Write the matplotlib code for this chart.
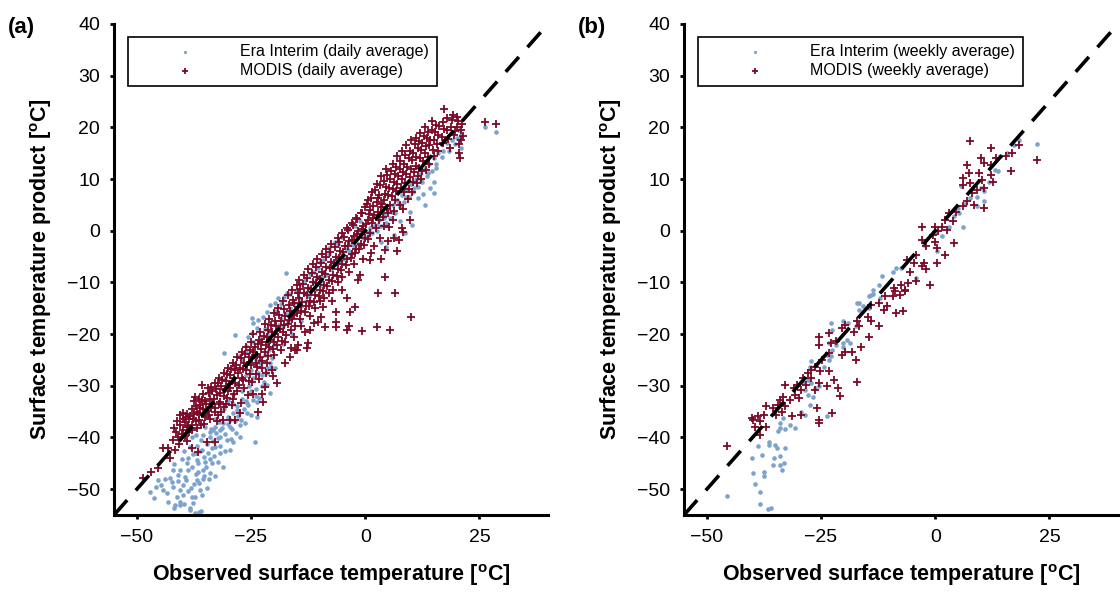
import matplotlib
matplotlib.use("Agg")
import matplotlib.pyplot as plt

plt.rcParams['font.family'] = ['Liberation Sans', 'DejaVu Sans']
plt.rcParams['mathtext.fontset'] = 'custom'
plt.rcParams['mathtext.rm'] = 'Liberation Sans'
plt.rcParams['mathtext.bf'] = 'Liberation Sans:bold'

# ---------------- data (observed, product) pairs ----------------
era_daily = [
    (-47.1, -50.5), (-41.6, -53.1), (-40.5, -53.1), (-38.4, -53.6), (-38.0, -51.5), (-39.9, -51.1),
    (-41.3, -51.5), (-43.5, -50.7), (-44.3, -50.2), (-42.7, -47.8), (-42.0, -46.3), (-40.5, -46.3),
    (-39.1, -45.0), (-39.5, -47.6), (-36.9, -48.2), (-36.2, -50.2), (-34.7, -49.8), (-37.3, -51.5),
    (-39.9, -49.2), (-45.4, -48.2), (-36.9, -44.4), (-35.5, -46.3), (-34.0, -46.9), (-35.8, -42.4),
    (-34.4, -43.0), (-38.4, -41.8), (-38.8, -44.0), (-33.6, -45.0), (-32.9, -41.8), (-31.8, -43.0),
    (-31.1, -45.7), (-29.6, -42.4), (-30.3, -40.5), (-28.9, -40.8), (-31.8, -39.9), (-34.0, -39.9),
    (-24.1, -40.8), (-27.4, -39.9), (-33.3, -38.6), (-31.8, -38.6), (-29.6, -37.9), (-27.4, -37.6),
    (-25.9, -35.3), (-23.8, -36.0), (-28.1, -34.7), (-23.8, -33.1), (-20.8, -31.4), (-25.9, -33.3),
    (-29.6, -36.6), (-31.1, -37.2), (-32.9, -37.9), (-32.2, -40.1), (-28.9, -35.3), (-38.4, -54.0),
    (-40.5, -52.4), (-42.0, -49.5), (-36.6, -46.6), (-38.0, -45.7), (-35.1, -44.7), (-36.5, -54.5),
    (-37.5, -49.0), (-35.5, -48.0), (-33.0, -47.5), (-41.0, -48.5), (-37.0, -43.0), (-33.5, -42.0),
    (-46.3, -51.8), (-44.8, -49.1), (-43.2, -52.4), (-42.4, -48.6), (-41.8, -45.2), (-41.1, -47.3),
    (-40.6, -50.1), (-40.1, -44.1), (-39.6, -52.8), (-39.2, -48.3), (-38.7, -46.2), (-38.2, -49.7),
    (-37.8, -43.2), (-37.6, -52.6), (-37.1, -47.1), (-36.7, -44.9), (-36.4, -48.8), (-36.1, -42.6),
    (-35.8, -51.2), (-35.4, -47.4), (-35.2, -43.8), (-34.9, -45.8), (-34.6, -41.3), (-34.2, -48.1),
    (-33.9, -44.2), (-33.4, -40.7), (-33.1, -43.6), (-32.6, -39.2), (-32.3, -44.8), (-31.9, -41.6),
    (-31.4, -38.1), (-30.8, -42.7), (-30.6, -39.4), (-30.1, -37.4), (-29.4, -40.2), (-29.1, -38.3),
    (-28.6, -36.8), (-28.3, -39.1), (-27.8, -35.9), (-27.1, -36.7), (-26.6, -34.5), (-26.3, -37.2),
    (-25.6, -33.8), (-25.1, -35.6), (-24.6, -32.7), (-23.9, -30.6), (-23.2, -32.4), (-22.7, -30.1),
    (-22.2, -29.3), (-21.6, -29.8), (-35.9, -54.3), (-37.2, -54.6), (-38.9, -50.4), (-41.9, -53.6),
    (-43.8, -48.1), (-45.9, -49.6), (-39.7, -42.7), (-36.8, -41.6), (-33.7, -38.3), (-35.6, -39.6),
    (-38.0, -40.0), (-37.0, -39.5), (-36.0, -40.5), (-35.0, -38.0), (-34.0, -39.0), (-33.0, -36.5),
    (-32.0, -37.0), (-31.0, -34.5), (-30.0, -36.0), (-29.0, -33.5), (-28.0, -34.0), (-27.0, -32.5),
    (-26.0, -33.0), (-25.0, -31.0), (-24.0, -32.0),
    (-30.0, -33.0), (-29.0, -31.5), (-28.0, -30.0), (-27.0, -31.0), (-26.0, -28.0), (-25.5, -30.0),
    (-25.0, -27.0), (-24.5, -28.5), (-24.0, -25.0), (-23.5, -27.5), (-23.0, -25.5), (-22.5, -28.0),
    (-22.0, -24.0), (-21.5, -26.5), (-21.0, -23.0), (-20.8, -25.6), (-20.5, -24.6), (-20.0, -22.0),
    (-19.8, -26.6), (-21.6, -27.5), (-20.6, -26.3),
    (-37.4, -34.2), (-35.8, -33.1), (-34.1, -31.4), (-32.4, -30.2), (-30.7, -28.6), (-29.2, -26.4),
    (-27.6, -24.2), (-26.2, -22.3), (-24.8, -19.8), (-23.6, -18.9), (-22.3, -16.6), (-21.4, -15.8),
    (-19.6, -15.6), (-18.4, -14.2), (-17.8, -12.8), (-16.4, -12.3), (-15.2, -11.6), (-14.3, -10.4),
    (-13.1, -9.6), (-12.2, -8.3), (-11.3, -7.9), (-10.4, -7.2), (-9.2, -5.6), (-7.9, -3.4),
    (-6.6, -2.1), (-5.1, -1.3), (-3.8, 0.2), (-2.3, 0.9), (-1.1, 1.8), (-21.3, -20.1),
    (-18.9, -18.2), (-16.6, -16.1), (-14.2, -13.9), (-12.4, -12.7), (-9.8, -9.9), (-7.3, -7.1),
    (-4.9, -5.4), (-2.6, -2.3),
    (-31.0, -23.7), (-28.5, -20.2), (-25.7, -20.5), (-24.9, -16.9), (-24.6, -17.8), (-23.5, -17.3),
    (-20.8, -14.4), (-19.8, -14.0), (-19.1, -13.0), (-17.2, -12.0), (-17.3, -8.2), (-27.0, -25.0),
    (-26.0, -23.5), (-24.5, -21.5), (-23.0, -20.5), (-22.0, -19.0), (-21.0, -18.0),
    (-19.0, -19.0), (-18.5, -17.0), (-18.0, -18.5), (-17.5, -16.0), (-17.0, -17.5), (-16.5, -15.0),
    (-16.0, -16.5), (-15.5, -14.0), (-15.0, -15.0), (-14.5, -13.0), (-14.0, -14.5), (-13.5, -12.0),
    (-13.0, -13.5), (-12.5, -11.0), (-12.0, -12.0), (-11.5, -10.0), (-11.0, -11.5), (-10.5, -9.0),
    (-10.0, -10.5), (-18.0, -22.0), (-16.0, -20.0), (-14.0, -17.5),
    (-9.5, -9.0), (-9.0, -8.0), (-8.5, -8.5), (-8.0, -7.0), (-7.5, -7.5), (-7.0, -6.0), (-6.5, -6.5),
    (-6.0, -5.0), (-5.5, -6.0), (-5.0, -4.5), (-4.5, -5.0), (-4.0, -3.5), (-3.5, -4.0), (-3.0, -2.5),
    (-2.5, -3.0), (-2.0, -1.5), (-1.5, -2.5), (-1.0, -0.5), (-0.5, -1.5), (0.0, 0.0), (-8.0, -4.5),
    (-6.0, -2.5), (-10.0, -6.0),
    (0.5, -1.0), (1.0, 0.5), (1.5, -0.5), (2.0, 1.0), (2.5, 0.0), (3.0, 2.0), (3.5, 1.0), (4.0, 3.0),
    (4.5, 1.5), (5.0, 4.0), (5.5, 2.5), (6.0, 5.0), (6.5, 3.5), (7.0, 6.0), (7.5, 4.5), (8.0, 7.0),
    (8.5, 5.5), (9.0, 8.0), (9.5, 6.5), (10.0, 9.0), (10.5, 7.5), (11.0, 10.0), (11.5, 8.5),
    (12.0, 11.0), (12.5, 9.5), (13.0, 12.0), (13.5, 10.5), (14.0, 13.0), (14.5, 11.5), (15.0, 14.0),
    (15.5, 13.0), (16.0, 15.0), (17.0, 15.5), (18.0, 17.0), (19.0, 17.5), (20.0, 18.0), (21.0, 18.5),
    (0.8, -0.3), (2.6, 1.2), (4.2, 2.4), (5.8, 3.7), (7.4, 5.3), (8.9, 6.6), (10.6, 8.2), (12.2, 9.6),
    (13.8, 11.2), (15.4, 12.1), (16.7, 14.3), (18.3, 15.4), (19.6, 16.8), (20.8, 17.7), (11.6, 6.4),
    (14.2, 8.3), (12.7, 7.1), (9.7, 3.6), (7.6, 1.8), (6.2, -0.8), (3.4, -2.2),
    (21.0, 16.0), (20.5, 19.5), (26.2, 20.0), (28.6, 19.2), (15.0, 7.3), (13.1, 5.0), (15.0, 9.4),
    (10.3, 1.1), (8.8, -0.4), (4.5, -3.1),
]

modis_daily = [
    (-48.6, -47.9), (-46.8, -46.6), (-45.3, -46.0), (-44.2, -42.1), (-43.1, -42.1), (-42.7, -44.0),
    (-41.6, -42.4),
    (-42.0, -40.5), (-41.5, -39.0), (-41.0, -40.0), (-40.5, -37.5), (-40.5, -35.7), (-40.0, -38.5),
    (-40.0, -36.5), (-39.5, -39.8), (-39.5, -37.0), (-39.0, -35.5), (-39.0, -38.0), (-38.5, -36.5),
    (-38.5, -39.0), (-38.0, -34.5), (-38.0, -37.5), (-38.0, -42.1),
    (-41.8, -38.2), (-41.2, -36.9), (-40.7, -41.3), (-40.2, -39.4), (-39.8, -35.2), (-39.3, -36.1),
    (-39.1, -40.6), (-38.8, -37.7), (-38.3, -35.9), (-37.9, -38.6), (-37.7, -36.4), (-37.2, -32.1),
    (-36.9, -38.1), (-36.8, -35.1), (-36.3, -36.7), (-36.1, -34.3), (-35.7, -32.8), (-35.3, -35.2),
    (-35.2, -37.3), (-34.8, -33.6), (-34.3, -31.3), (-34.2, -35.6), (-33.8, -34.1), (-33.7, -30.2),
    (-33.2, -32.6), (-32.8, -34.3), (-32.7, -30.7), (-32.3, -29.4), (-32.2, -35.7), (-31.8, -31.3),
    (-31.7, -33.2), (-31.3, -28.8), (-30.9, -34.1), (-30.8, -30.6), (-30.3, -27.7), (-30.2, -32.4),
    (-29.8, -29.7), (-29.3, -26.8), (-29.2, -33.8), (-28.8, -28.4), (-28.7, -31.6), (-28.3, -25.9),
    (-27.8, -27.6), (-27.7, -29.9), (-27.3, -24.6), (-27.2, -33.4), (-26.8, -26.7), (-26.7, -28.9),
    (-26.3, -23.8), (-25.8, -25.9), (-25.7, -31.8), (-25.2, -23.1), (-25.3, -27.8), (-24.8, -24.7),
    (-24.7, -29.2), (-24.2, -22.4), (-23.8, -24.1), (-23.7, -26.3), (-23.3, -21.2), (-23.2, -28.6),
    (-22.8, -22.8), (-22.7, -25.3), (-22.2, -20.4), (-21.8, -22.1), (-21.7, -27.6), (-21.3, -19.3),
    (-21.2, -24.3), (-20.8, -21.2), (-20.7, -18.2), (-20.3, -22.9), (-19.8, -19.9), (-19.7, -17.4),
    (-19.3, -22.2), (-18.8, -16.3), (-18.7, -19.1), (-18.3, -21.4), (-17.8, -15.2), (-17.7, -18.3),
    (-17.3, -20.1), (-16.8, -14.3), (-16.7, -17.2), (-16.3, -19.3), (-16.2, -22.6), (-15.8, -13.4),
    (-15.7, -16.3), (-15.3, -18.4), (-14.8, -12.1), (-14.7, -14.7), (-14.3, -11.2), (-14.2, -17.1),
    (-13.8, -13.8), (-13.7, -10.3), (-13.3, -15.8), (-13.2, -19.6), (-12.8, -12.4), (-12.7, -9.1),
    (-12.3, -14.6), (-11.8, -11.3), (-11.7, -8.2), (-11.3, -13.7), (-11.2, -17.9), (-10.8, -10.2),
    (-10.7, -7.1), (-10.2, -12.6), (-9.8, -9.3), (-9.7, -6.2), (-9.3, -11.6), (-9.2, -14.8),
    (-8.8, -8.4), (-8.7, -5.1), (-8.3, -10.7), (-7.8, -7.3), (-7.7, -4.2), (-7.3, -9.8),
    (-7.2, -13.6), (-6.8, -6.3), (-6.7, -3.1), (-6.2, -8.7), (-5.8, -5.2), (-5.7, -2.2), (-5.3, -7.6),
    (-5.2, -11.4), (-4.8, -4.1), (-4.7, -1.2), (-4.3, -6.7), (-3.8, -2.9), (-3.7, 0.1), (-3.2, -5.3),
    (-2.8, -1.8), (-2.7, 1.2), (-2.3, -4.4), (-1.8, -0.6), (-1.7, 2.3), (-1.3, -3.6), (-0.8, 0.4),
    (-0.7, 3.4), (-0.3, -2.7), (0.2, 1.3), (0.3, 5.1), (0.7, -1.6), (0.8, 3.2), (1.2, 6.3),
    (1.3, -4.3), (1.7, 2.4), (1.8, 4.7), (2.2, 7.8), (2.3, 0.6), (2.7, 3.6), (2.8, 6.4), (3.2, 8.9),
    (3.3, -1.4), (3.7, 5.2), (3.8, 2.7), (4.2, 9.7), (4.3, 7.1), (4.7, 4.3), (4.8, 10.8), (5.2, 8.2),
    (5.3, 0.7), (5.7, 11.6), (5.8, 6.8), (6.2, 9.4), (6.3, 3.9), (6.7, 12.3), (6.8, 7.7),
    (7.2, 10.6), (7.3, -1.8), (7.7, 13.4), (7.8, 8.3), (8.2, 11.4), (8.3, 4.2), (8.7, 14.6),
    (8.8, 9.2), (9.2, 12.3), (9.3, 6.1), (9.7, 15.4), (9.8, 10.4), (10.2, 13.6), (10.3, 7.4),
    (10.8, 16.7), (10.7, 11.3), (11.2, 14.3), (11.3, 9.2), (11.8, 17.4), (11.7, 12.2), (12.2, 15.6),
    (12.3, 10.1), (12.8, 18.3), (12.7, 13.4), (13.2, 16.4), (13.3, 11.8), (13.8, 19.2), (13.7, 14.2),
    (14.2, 17.6), (14.8, 15.7), (14.7, 21.2), (15.2, 19.1), (15.8, 16.8), (16.2, 20.3), (16.7, 18.1),
    (17.3, 19.7), (17.8, 21.8), (18.2, 17.7), (18.8, 20.1), (19.3, 22.4), (19.7, 19.3), (20.3, 21.2),
    (20.6, 16.7), (21.2, 20.6), (21.4, 18.3),
    (-37.5, -35.5), (-37.5, -33.0), (-37.0, -36.8), (-37.0, -34.0), (-36.6, -42.8), (-36.5, -32.5),
    (-36.5, -35.5), (-36.2, -33.7), (-36.0, -37.5), (-35.8, -29.8), (-35.5, -34.5), (-35.5, -31.5),
    (-35.0, -36.0), (-35.0, -33.0), (-34.7, -40.8), (-34.5, -30.5), (-34.5, -34.8), (-34.0, -32.5),
    (-34.0, -36.5),
    (-33.5, -31.0), (-33.5, -33.5), (-33.0, -29.5), (-33.0, -35.0), (-32.9, -40.8), (-32.5, -36.9),
    (-32.5, -31.8), (-32.0, -28.5), (-32.0, -33.5), (-31.5, -30.0), (-31.5, -35.0), (-31.1, -36.6),
    (-31.0, -27.5), (-31.0, -32.0), (-30.5, -29.0), (-30.5, -33.5), (-30.0, -26.5), (-30.0, -31.0),
    (-29.6, -36.6), (-29.5, -28.0), (-29.5, -30.5), (-29.0, -25.5), (-29.0, -32.5), (-28.5, -36.6),
    (-28.5, -27.0), (-28.5, -29.5), (-28.0, -24.5), (-28.0, -31.0), (-27.5, -26.5), (-27.4, -35.3),
    (-27.0, -23.5), (-27.0, -28.5), (-26.5, -25.5), (-26.5, -30.5), (-26.0, -22.5), (-26.0, -27.0),
    (-25.5, -24.5), (-25.5, -29.0), (-25.0, -21.5), (-25.0, -26.0),
    (-24.5, -31.5), (-24.5, -23.5), (-24.5, -20.0), (-24.0, -25.5), (-24.0, -27.8), (-23.5, -22.0),
    (-23.4, -35.0), (-23.0, -19.5), (-23.0, -24.5), (-22.7, -31.5), (-22.5, -21.5), (-22.5, -26.5),
    (-22.3, -33.1), (-22.0, -18.0), (-22.0, -23.5), (-21.9, -30.2), (-21.5, -20.5), (-21.5, -25.5),
    (-21.0, -17.0), (-21.0, -22.5), (-20.5, -19.5), (-20.5, -27.0), (-20.1, -28.2), (-20.0, -16.0),
    (-20.0, -21.5), (-20.0, -24.0),
    (-19.5, -18.5), (-19.4, -29.5), (-19.0, -15.0), (-19.0, -20.5), (-18.5, -17.5), (-18.5, -23.0),
    (-18.0, -13.5), (-18.0, -19.5), (-17.5, -16.5), (-17.5, -21.5), (-17.0, -12.5), (-17.0, -18.0),
    (-16.5, -15.5), (-16.5, -24.5), (-16.0, -11.5), (-16.0, -17.0), (-15.5, -14.0), (-15.5, -20.5),
    (-15.0, -10.5), (-15.0, -16.0), (-15.0, -23.0), (-17.6, -25.6), (-15.4, -23.1),
    (-14.7, -22.1), (-14.5, -13.0), (-14.5, -9.5), (-14.0, -15.5), (-14.0, -18.5), (-13.5, -12.0),
    (-13.5, -8.5), (-13.0, -14.5), (-12.8, -22.7), (-12.5, -21.8), (-12.5, -11.0), (-12.5, -7.5),
    (-12.1, -19.2), (-12.0, -13.5), (-12.0, -16.5), (-11.5, -10.0), (-11.5, -6.5), (-11.0, -12.5),
    (-11.0, -15.0), (-10.5, -9.0), (-10.5, -5.5), (-10.3, -17.6), (-10.0, -11.5), (-10.0, -13.5),
    (-9.6, -16.6), (-9.5, -8.0), (-9.5, -4.5), (-9.0, -10.5), (-9.0, -13.0), (-8.8, -18.6),
    (-8.5, -7.0), (-8.5, -3.5), (-8.0, -9.5), (-8.0, -12.0), (-7.5, -6.0), (-7.5, -2.5), (-7.0, -8.5),
    (-7.0, -11.5), (-6.5, -5.0), (-6.4, -18.6), (-6.3, -15.7), (-6.3, -17.6), (-6.0, -1.5),
    (-6.0, -7.5), (-6.0, -10.0), (-5.5, -4.0), (-5.0, -0.5), (-5.0, -6.5), (-5.0, -9.0),
    (-4.5, -3.0), (-4.1, -13.1), (-4.0, -19.2), (-4.0, 0.5), (-4.0, -5.5), (-3.5, -2.0),
    (-3.5, -18.4), (-3.5, -8.0), (-3.3, -15.7), (-3.0, 1.5), (-3.0, -4.5), (-2.5, -1.0), (-2.5, -6.5),
    (-2.2, -14.7), (-2.0, 2.5), (-2.0, -3.5), (-1.5, 0.0), (-1.5, -9.5), (-1.0, 3.5), (-1.0, -2.5),
    (-0.7, -19.4), (-0.5, 1.0), (-0.5, -5.5), (0.0, 4.5), (0.0, -1.5), (-1.1, -8.6), (1.0, -5.7),
    (0.5, 2.0), (0.5, 6.0), (1.0, -0.5), (1.0, 4.0), (1.5, 7.5), (1.5, 1.5), (2.0, 3.0), (2.0, -3.0),
    (2.5, 5.5), (2.5, 9.0), (2.6, -18.6), (2.8, -12.0), (3.0, 2.0), (3.0, 7.0), (3.5, 4.5),
    (3.5, 10.5), (3.5, -5.5), (4.0, 6.0), (4.0, 1.0), (4.5, 8.5), (4.5, 12.0), (5.0, 3.5), (5.0, 7.0),
    (5.0, -2.0), (4.3, -3.7), (4.3, -8.9), (6.2, -1.5), (8.3, -0.2), (9.8, 2.1),
    (5.4, -19.2), (5.5, 10.0), (5.5, 5.0), (6.0, 13.0), (6.0, 8.0), (6.0, 2.0), (6.5, -12.0),
    (6.5, 11.0), (6.5, 6.0), (7.0, 14.5), (7.0, 9.0), (7.0, -4.0), (7.5, 12.0), (7.5, 5.0),
    (8.0, 15.5), (8.0, 10.0), (8.0, 0.5), (8.5, 13.0), (8.5, 7.5), (9.0, 16.5), (9.0, 11.0),
    (9.5, 14.0), (9.5, 8.0), (10.0, -16.7), (10.0, 17.5), (10.0, 12.0),
    (10.5, 9.5), (10.5, 15.0), (11.0, 18.0), (11.0, 12.5), (11.5, 16.0), (11.5, 10.5), (12.0, 19.0),
    (12.0, 14.0), (12.5, 17.0), (12.5, 11.5), (13.0, 20.0), (13.0, 15.0), (13.5, 18.0),
    (14.0, 16.5), (14.0, 13.0), (14.5, 19.5), (15.0, 17.5), (15.0, 14.5),
    (15.5, 20.5), (16.0, 18.5), (16.0, 15.5), (17.0, 21.0), (17.2, 23.6), (17.0, 17.0), (18.0, 19.5),
    (18.5, 16.0), (19.0, 21.5), (19.5, 18.5), (20.0, 22.0), (20.0, 20.0), (20.5, 15.0), (20.8, 14.0),
    (21.0, 17.5), (21.0, 19.5), (26.2, 21.1), (28.6, 20.7),
]

era_weekly = [
    (-45.6, -51.4), (-38.3, -50.6), (-38.3, -52.8), (-36.7, -53.8), (-36.0, -53.7), (-39.4, -49.0),
    (-39.8, -46.9), (-37.5, -47.5), (-37.5, -46.6), (-40.2, -43.9), (-37.9, -43.4), (-35.6, -45.3),
    (-35.4, -44.0), (-34.0, -43.5), (-34.0, -45.3), (-33.1, -45.0), (-33.6, -46.3), (-33.0, -42.0),
    (-34.6, -42.0), (-35.0, -41.4), (-36.3, -40.8), (-36.3, -41.4), (-38.7, -41.7), (-34.4, -38.8),
    (-34.0, -38.2), (-32.9, -38.4), (-30.6, -38.2), (-31.7, -37.5), (-34.0, -37.2), (-33.3, -36.3),
    (-29.4, -35.0), (-28.6, -35.6), (-27.5, -33.7), (-23.6, -35.9), (-27.9, -31.7), (-26.7, -32.1),
    (-26.3, -30.5), (-25.5, -30.1), (-27.1, -29.5), (-27.9, -28.8), (-29.0, -29.2), (-28.6, -30.8),
    (-27.5, -26.3), (-27.1, -25.3), (-24.4, -26.3), (-23.2, -25.0), (-22.8, -24.3), (-23.6, -24.0),
    (-22.5, -23.0), (-21.7, -22.1), (-22.8, -17.9), (-23.2, -21.7), (-22.5, -19.2), (-20.1, -17.5),
    (-19.0, -17.9), (-19.4, -21.1), (-20.1, -21.7), (-18.6, -21.7), (-20.1, -22.4), (-17.4, -18.5),
    (-16.7, -15.3), (-15.9, -14.6), (-16.7, -14.0), (-17.1, -14.0), (-14.4, -15.0), (-14.0, -12.4),
    (-13.6, -11.4), (-12.0, -13.0), (-14.4, -12.7), (-13.6, -12.2), (-12.4, -10.5), (-11.7, -8.8),
    (-9.3, -7.9), (-8.6, -7.2), (-7.4, -7.2), (-6.2, -5.6), (-4.3, -9.2), (0.3, -4.0), (-2.4, -2.7),
    (-0.1, -0.5), (1.5, -1.1), (3.0, 0.8), (4.2, 2.8), (5.3, 3.4), (4.9, 4.4), (6.5, 5.2), (6.1, 0.8),
    (7.6, 6.3), (9.2, 6.6), (10.0, 8.3), (10.7, 7.6), (9.2, 4.7), (10.7, 5.7), (11.8, 9.5),
    (13.0, 11.8), (13.7, 11.5), (14.1, 14.4), (15.7, 15.0), (17.3, 16.6), (18.3, 17.6), (22.3, 16.8),
    (5.7, 8.6),
]

modis_weekly = [
    (7.5, 17.4), (12.3, 16.1), (18.3, 16.5), (22.3, 13.6), (16.7, 15.0), (16.5, 11.5), (15.4, 14.4),
    (13.4, 14.1), (12.3, 12.8), (10.7, 13.1), (10.0, 14.1), (6.9, 12.8), (7.3, 11.2), (6.1, 10.2),
    (6.1, 8.9), (7.6, 9.2), (9.6, 11.2), (10.3, 9.9), (12.3, 10.8), (12.6, 9.5), (8.0, 7.3),
    (9.2, 7.9), (10.7, 8.3), (10.7, 4.4), (8.4, 5.0), (6.9, 5.7), (6.1, 4.7), (4.6, 3.7), (3.0, 3.4),
    (2.2, 2.1), (3.8, 1.8), (2.6, 0.2), (1.5, 0.8), (0.7, -0.1), (-0.1, 0.8), (-2.8, 0.8),
    (-0.5, -0.8), (4.2, -2.4), (2.2, -4.6), (0.3, -3.4), (-0.1, -2.1), (-2.0, -3.0), (-2.8, -1.7),
    (0.3, -6.3), (-2.4, -6.3), (-2.0, -7.5), (-2.8, -6.9), (-4.3, -4.6), (-4.7, -6.3), (-5.5, -7.9),
    (-6.2, -5.6), (-4.3, -9.8), (-5.9, -10.1), (-7.4, -10.5), (-9.0, -11.1), (-6.6, -11.4),
    (-7.8, -12.4), (-1.2, -10.5), (-9.3, -12.7), (-10.9, -12.7),
    (-6.6, -11.7), (-8.9, -11.7), (-12.4, -14.0), (-10.5, -14.6), (-11.3, -15.3), (-8.6, -15.9),
    (-7.0, -15.6), (-14.0, -14.3), (-14.7, -16.6), (-14.0, -17.5), (-12.4, -18.5), (-16.7, -18.5),
    (-17.1, -17.5), (-17.8, -19.5), (-19.8, -18.2), (-20.5, -18.8), (-14.4, -20.5), (-16.3, -22.4),
    (-17.4, -25.0), (-17.1, -29.2), (-18.2, -23.4), (-19.8, -23.4), (-20.5, -24.0), (-21.7, -21.4),
    (-22.8, -21.7), (-23.2, -19.8), (-25.5, -20.5), (-25.5, -22.1), (-23.2, -23.7), (-24.8, -25.0),
    (-26.3, -26.3), (-27.1, -26.9), (-25.2, -27.2), (-23.2, -27.2), (-22.1, -28.8), (-23.6, -30.1),
    (-21.3, -30.5), (-20.9, -31.9), (-25.5, -29.5), (-27.1, -28.5), (-29.0, -28.5), (-30.2, -29.8),
    (-29.4, -30.8), (-31.0, -30.5), (-32.9, -29.8), (-30.6, -31.7), (-29.8, -32.4), (-31.7, -32.7),
    (-33.3, -32.1), (-34.0, -32.7), (-34.4, -33.7), (-32.9, -34.0), (-35.6, -34.3), (-37.1, -34.0),
    (-37.5, -35.6), (-38.7, -35.8), (-39.8, -36.6), (-40.2, -36.3), (-38.3, -36.9), (-39.4, -37.9),
    (-37.1, -37.9), (-38.3, -39.5), (-45.6, -41.7), (-29.4, -35.6), (-31.3, -35.9), (-34.8, -35.6),
    (-33.6, -35.0), (-25.9, -34.3), (-25.5, -36.6), (-25.5, -37.2), (-22.5, -35.3), (-26.3, -30.8),
    (-28.2, -29.8), (-27.9, -27.5),
]

panel_tags = ['(a)', '(b)']
era_labels = ['Era Interim (daily average)', 'Era Interim (weekly average)']
modis_labels = ['MODIS (daily average)', 'MODIS (weekly average)']
xticks = [-50, -25, 0, 25]
yticks = [-50, -40, -30, -20, -10, 0, 10, 20, 30, 40]
axis_limits = (-55, 40)

BLUE = '#7ba3cd'
RED = '#7c0a26'

fig = plt.figure(figsize=(11.2, 5.92), dpi=100)
lefts = [114 / 1120, 684 / 1120]
tag_x = [8 / 1120, 578 / 1120]

datasets = [(era_daily, modis_daily), (era_weekly, modis_weekly)]

for i, (era, modis) in enumerate(datasets):
    ax = fig.add_axes([lefts[i], 77 / 592, 434 / 1120, 491 / 592])
    ex, ey = zip(*era)
    mx, my = zip(*modis)
    ax.scatter(ex, ey, s=11, marker='o', color=BLUE, linewidths=0, label=era_labels[i], zorder=2)
    ax.scatter(mx, my, s=34, marker='+', color=RED, linewidths=1.3, label=modis_labels[i], zorder=3)
    ax.axline((0, 0), slope=1, color='black', lw=2.6, linestyle=(0, (5.5, 3.6)), zorder=4)

    ax.set_xlim(*axis_limits)
    ax.set_ylim(*axis_limits)
    ax.set_xticks(xticks)
    ax.set_yticks(yticks)
    for side in ['top', 'right']:
        ax.spines[side].set_visible(False)
    for side in ['left', 'bottom']:
        ax.spines[side].set_linewidth(2.2)
    ax.tick_params(direction='out', length=3, width=2.0, labelsize=14, pad=7)

    ax.set_xlabel(r'Observed surface temperature [$^{\mathbf{o}}$C]', fontsize=15.5,
                  fontweight='bold', va='center', ha='center')
    ax.xaxis.set_label_coords(0.5, -0.122)
    ax.set_ylabel(r'Surface temperature product [$^{\mathbf{o}}$C]', fontsize=15.5,
                  fontweight='bold', va='center', ha='center')
    ax.yaxis.set_label_coords(-0.168, 0.5)

    leg = ax.legend(loc='upper left', bbox_to_anchor=(0.032, 0.973), borderaxespad=0,
                    handlelength=6.3, handletextpad=0.3, labelspacing=0.25, borderpad=0.45,
                    fontsize=11.5, scatterpoints=1, fancybox=False, framealpha=1,
                    edgecolor='black', markerscale=0.7)
    leg.get_frame().set_linewidth(1.2)

    fig.text(tag_x[i], 1 - 27 / 592, panel_tags[i], fontsize=16, fontweight='bold',
             ha='left', va='center')

fig.savefig('out.png', dpi=100)
